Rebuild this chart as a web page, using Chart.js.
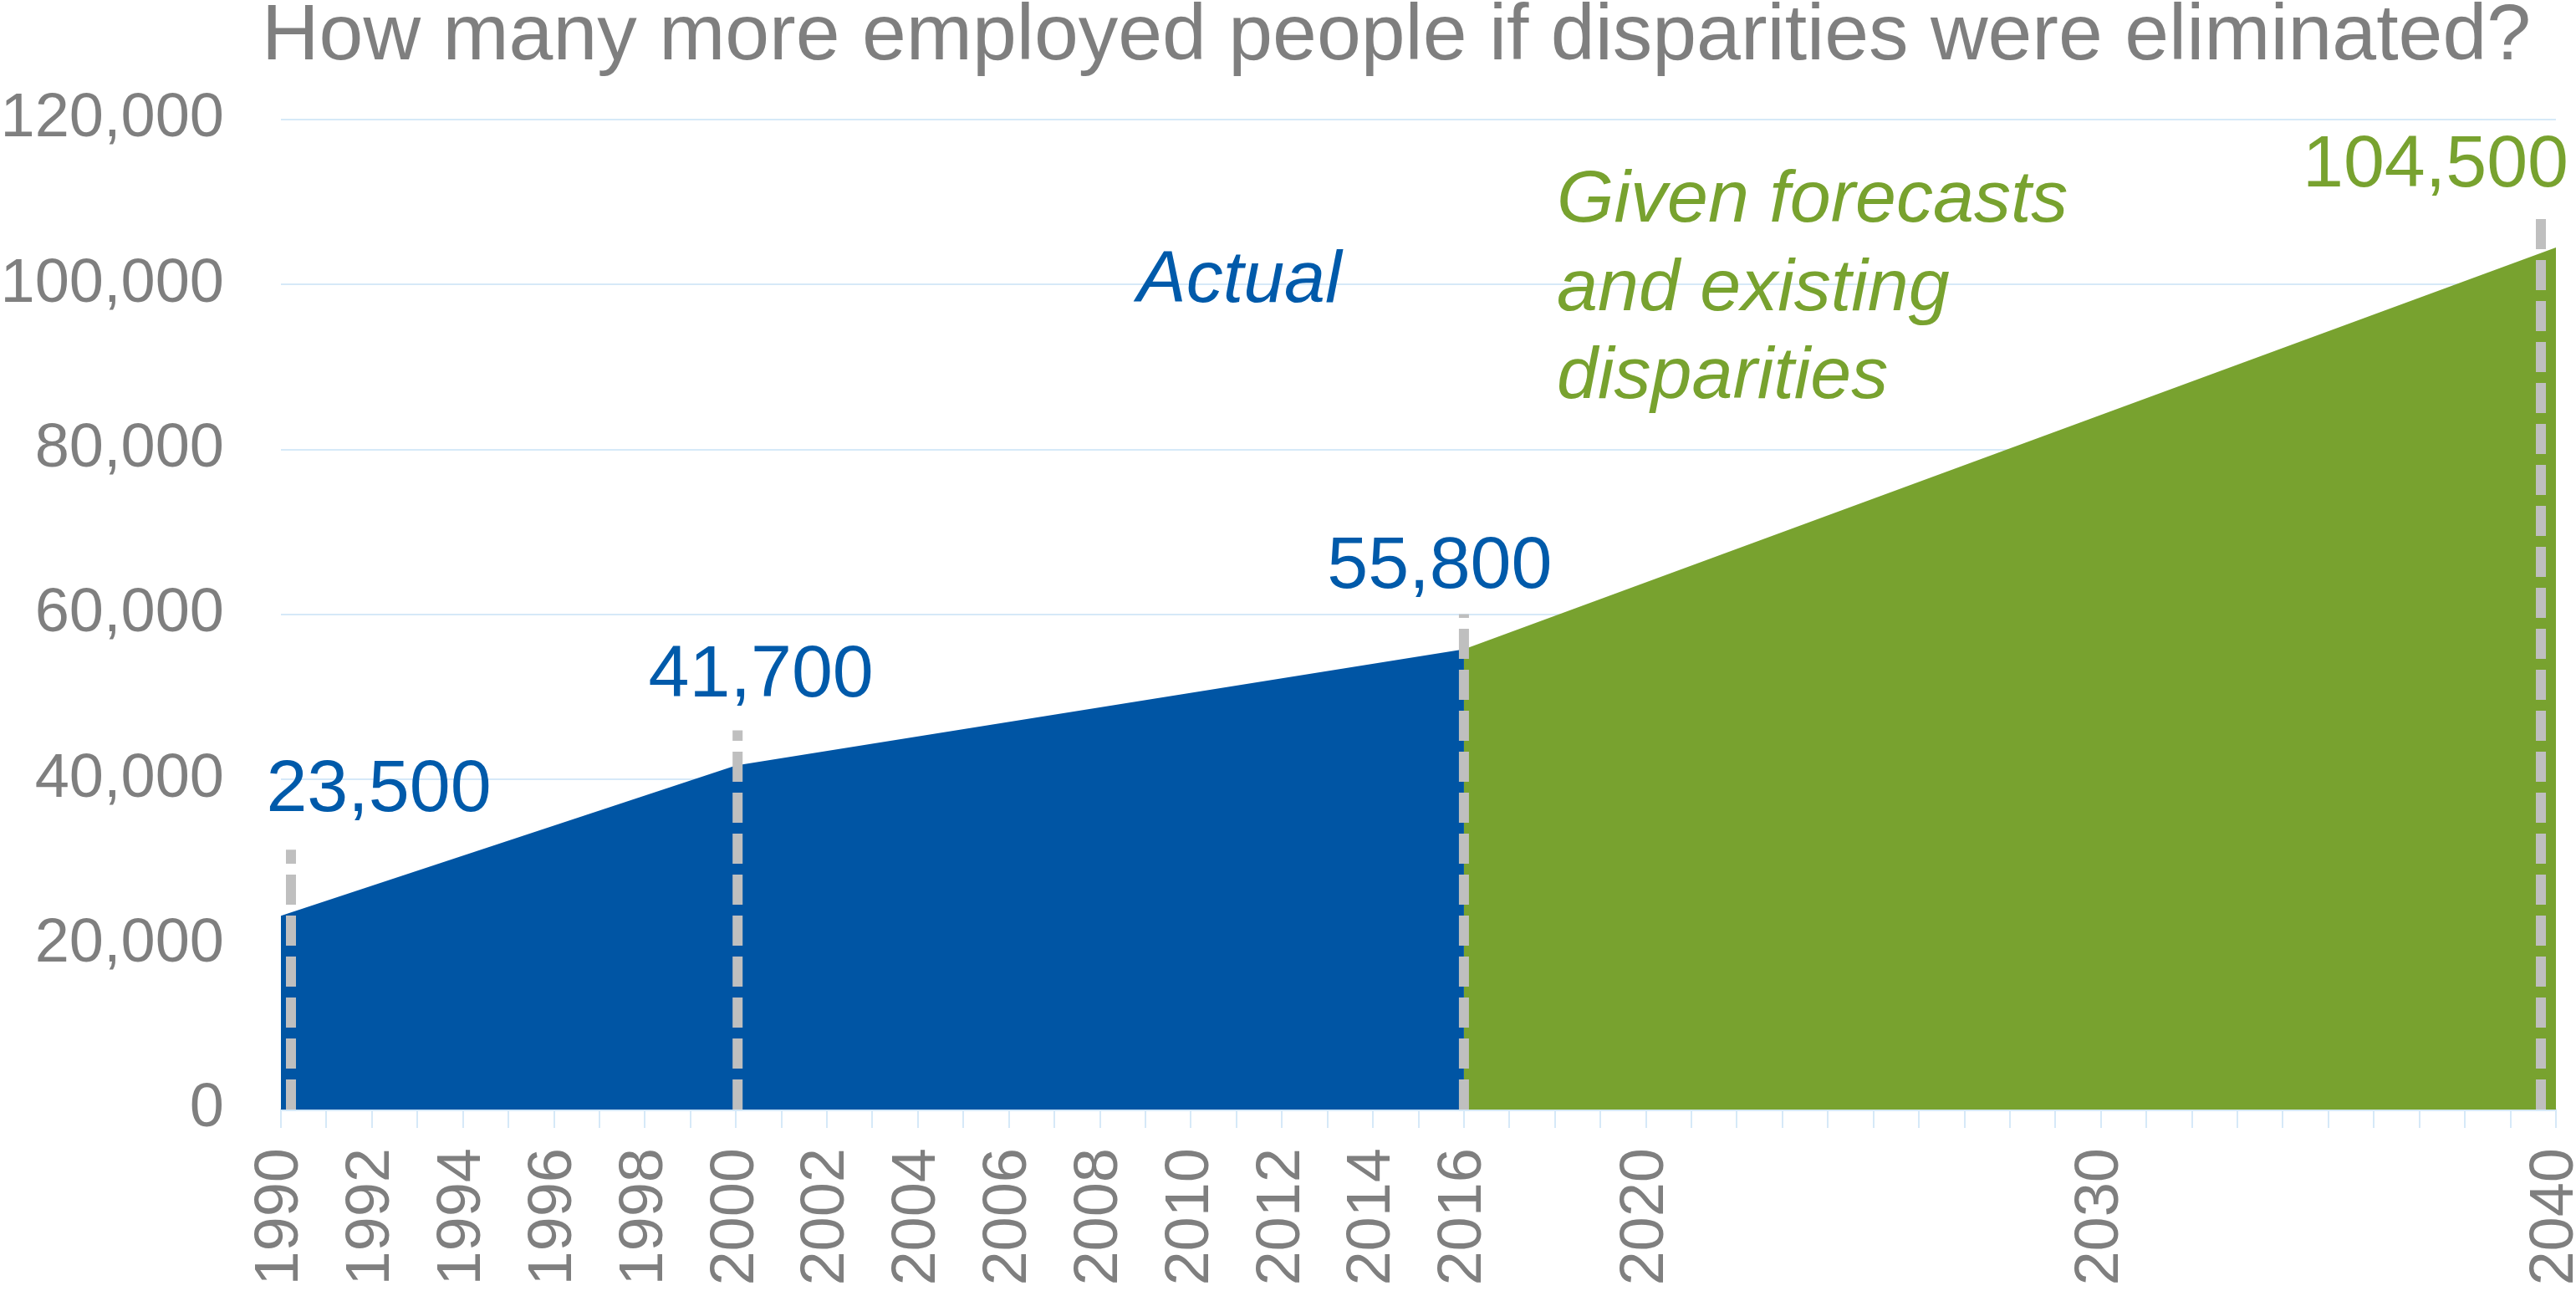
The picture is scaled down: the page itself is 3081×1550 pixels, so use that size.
<!DOCTYPE html>
<html>
<head>
<meta charset="utf-8">
<script src="https://cdn.jsdelivr.net/npm/chart.js@4.4.1/dist/chart.umd.min.js"></script>
<style>
  html, body { margin: 0; padding: 0; background: #fff; }
  canvas { display: block; }
</style>
</head>
<body>
<canvas id="jobsChart" width="3081" height="1550" style="width:3081px;height:1550px"></canvas>
<script>
// data
const actualYears = [1990, 2000, 2016];
const actualValues = [23500, 41700, 55800];
const forecastYears = [2016, 2040];
const forecastValues = [55800, 104500];
const markerYears = [1990, 2000, 2016, 2040];
const markerValues = [23500, 41700, 55800, 104500];
const labeledYears = [1990, 1992, 1994, 1996, 1998, 2000, 2002, 2004, 2006, 2008,
  2010, 2012, 2014, 2016, 2020, 2030, 2040];
const yMax = 120000;
const yStep = 20000;

const FONT = '"Liberation Sans", Arial, sans-serif';
const BLUE = '#0055a4';
const BLUE_TEXT = '#005aaa';
const GREEN = '#78a22f';
const GREY = '#7f7f7f';
const GRID = '#d6e9f8';

// where the dashed guides and value labels sit around each marker (pixels)
const markerLayout = [
  { lineDx: 12, lineUp: 79, labelDx: 117, labelUp: 125, color: BLUE_TEXT },
  { lineDx: 2, lineUp: 42, labelDx: 30, labelUp: 83, color: BLUE_TEXT },
  { lineDx: 0, lineUp: 42, labelDx: -29, labelUp: 73, color: BLUE_TEXT },
  { lineDx: -18, lineUp: 44, labelDx: -144, labelUp: 73, color: GREEN }
];

const toPoints = (xs, ys) => xs.map((x, i) => ({ x: x, y: ys[i] }));

const guides = {
  id: 'guides',
  afterDatasetsDraw(chart) {
    const { ctx, scales } = chart;
    const base = scales.y.getPixelForValue(0);
    ctx.save();
    ctx.strokeStyle = '#bfbfbf';
    ctx.lineWidth = 12;
    ctx.setLineDash([36, 13]);
    markerYears.forEach((yr, i) => {
      const m = markerLayout[i];
      const x = scales.x.getPixelForValue(yr) + m.lineDx;
      const top = scales.y.getPixelForValue(markerValues[i]) - m.lineUp;
      ctx.beginPath();
      ctx.moveTo(x, base);
      ctx.lineTo(x, top);
      ctx.stroke();
    });
    ctx.restore();
  },
  afterDraw(chart) {
    const { ctx, scales } = chart;
    ctx.save();
    ctx.textBaseline = 'alphabetic';
    // value labels
    ctx.font = '88px ' + FONT;
    ctx.textAlign = 'center';
    markerYears.forEach((yr, i) => {
      const m = markerLayout[i];
      ctx.fillStyle = m.color;
      ctx.fillText(markerValues[i].toLocaleString('en-US'),
        scales.x.getPixelForValue(yr) + m.labelDx,
        scales.y.getPixelForValue(markerValues[i]) - m.labelUp);
    });
    // title
    ctx.textAlign = 'left';
    ctx.font = '95px ' + FONT;
    ctx.fillStyle = GREY;
    ctx.fillText('How many more employed people if disparities were eliminated?', 313, 71);
    // annotations
    ctx.font = 'italic 88px ' + FONT;
    ctx.fillStyle = BLUE_TEXT;
    ctx.fillText('Actual', 1360, 361);
    ctx.fillStyle = GREEN;
    ['Given forecasts', 'and existing', 'disparities'].forEach((t, i) => {
      ctx.fillText(t, 1862, 265 + i * 105.5);
    });
    ctx.restore();
  }
};

new Chart(document.getElementById('jobsChart'), {
  type: 'line',
  data: {
    datasets: [
      {
        label: 'Actual',
        data: toPoints(actualYears, actualValues),
        backgroundColor: BLUE,
        borderWidth: 0,
        pointRadius: 0,
        fill: 'origin',
        tension: 0
      },
      {
        label: 'Given forecasts and existing disparities',
        data: toPoints(forecastYears, forecastValues),
        backgroundColor: GREEN,
        borderWidth: 0,
        pointRadius: 0,
        fill: 'origin',
        tension: 0
      }
    ]
  },
  options: {
    responsive: false,
    animation: false,
    devicePixelRatio: 1,
    layout: { padding: { top: 143, left: 0, right: 24, bottom: 0 } },
    plugins: {
      legend: { display: false },
      tooltip: { enabled: false },
      title: { display: false }
    },
    scales: {
      x: {
        type: 'linear',
        min: 1990,
        max: 2040,
        grid: {
          drawOnChartArea: false,
          drawTicks: true,
          tickLength: 22,
          color: GRID,
          lineWidth: 2
        },
        border: { color: GRID, width: 3 },
        ticks: {
          stepSize: 1,
          autoSkip: false,
          minRotation: 90,
          maxRotation: 90,
          padding: 24,
          color: GREY,
          font: { family: FONT, size: 74 },
          callback: v => labeledYears.includes(v) ? String(v) : ''
        },
        afterFit: s => {
          s.height = 223;
          s.paddingLeft = 0;
          s.paddingRight = 0;
        }
      },
      y: {
        min: 0,
        max: yMax,
        grid: { color: GRID, lineWidth: 2, drawTicks: false },
        border: { display: false },
        ticks: {
          stepSize: yStep,
          padding: 68,
          color: GREY,
          font: { family: FONT, size: 74 },
          callback: v => v.toLocaleString('en-US')
        },
        afterFit: s => { s.width = 336; }
      }
    }
  },
  plugins: [guides]
});
</script>
</body>
</html>
